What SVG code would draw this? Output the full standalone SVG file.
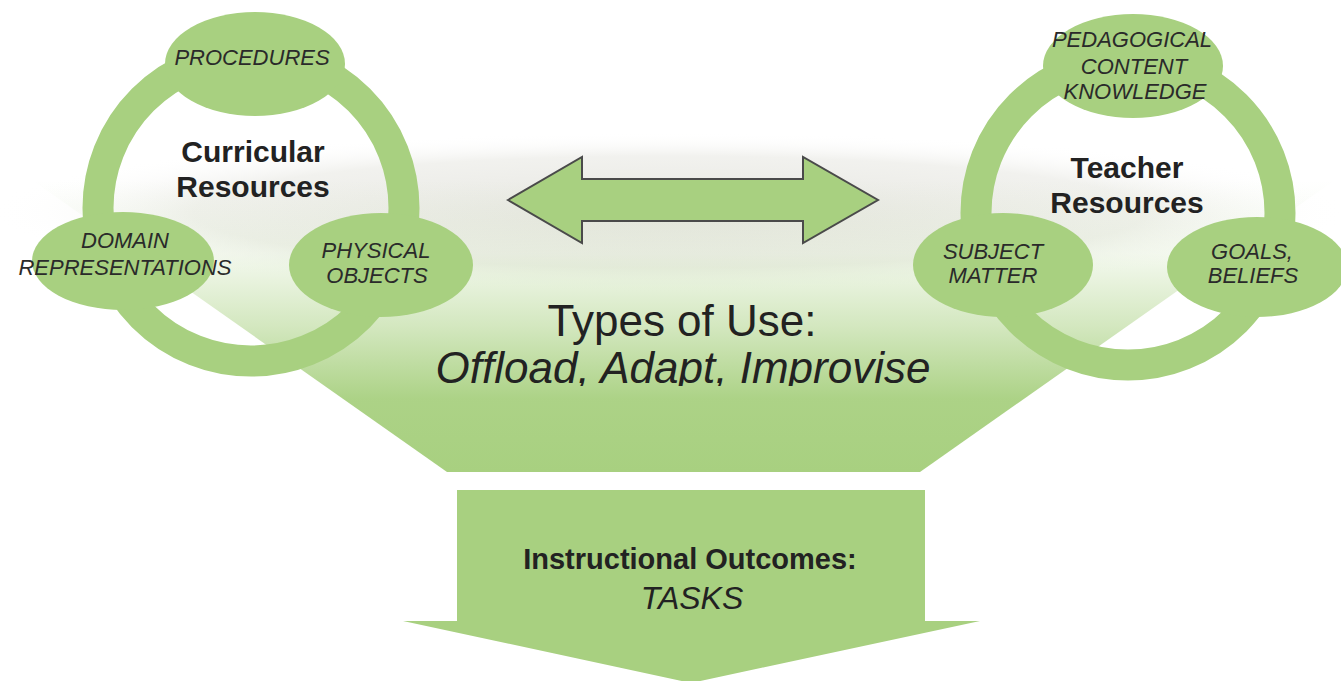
<svg xmlns="http://www.w3.org/2000/svg" width="1341" height="681" viewBox="0 0 1341 681">
  <defs>
    <style>
      .g { fill: #a8d080; }
      .ring { fill: none; stroke: #a8d080; stroke-width: 31; }
      .lbl { font-family: "Liberation Sans", Arial, sans-serif; font-style: italic; font-size: 22px; fill: #2a2a2a; text-anchor: middle; }
      .ttl { font-family: "Liberation Sans", Arial, sans-serif; font-weight: bold; font-size: 30px; fill: #222; text-anchor: middle; }
      .big { font-family: "Liberation Sans", Arial, sans-serif; font-size: 44px; fill: #222; text-anchor: middle; }
      .out { font-family: "Liberation Sans", Arial, sans-serif; font-weight: bold; font-size: 29px; fill: #222; text-anchor: middle; }
      .task { font-family: "Liberation Sans", Arial, sans-serif; font-style: italic; font-size: 32px; fill: #222; text-anchor: middle; }
    </style>
    <linearGradient id="hexFill" x1="0" y1="180" x2="0" y2="472" gradientUnits="userSpaceOnUse">
      <stop offset="0" stop-color="#a8d080" stop-opacity="0"/>
      <stop offset="0.25" stop-color="#a8d080" stop-opacity="0.12"/>
      <stop offset="0.5" stop-color="#a8d080" stop-opacity="0.5"/>
      <stop offset="0.75" stop-color="#a8d080" stop-opacity="0.95"/>
      <stop offset="1" stop-color="#a8d080" stop-opacity="1"/>
    </linearGradient>
    <radialGradient id="fog" cx="670" cy="212" r="1" gradientUnits="userSpaceOnUse" gradientTransform="translate(670 212) scale(680 80) translate(-670 -212)">
      <stop offset="0" stop-color="#e6e6e0" stop-opacity="1"/>
      <stop offset="0.7" stop-color="#eeeeea" stop-opacity="0.8"/>
      <stop offset="1" stop-color="#ffffff" stop-opacity="0"/>
    </radialGradient>
    <clipPath id="clipLine">
      <rect x="0" y="0" width="1341" height="386"/>
    </clipPath>
  </defs>

  <rect width="1341" height="681" fill="#ffffff"/>
  <ellipse cx="670" cy="212" rx="680" ry="80" fill="url(#fog)"/>

  <g id="types-of-use">
    <polygon points="32,180 1335,180 920,472 447,472" fill="url(#hexFill)"/>
    <text class="big" x="682" y="336">Types of Use:</text>
    <text class="big" x="683" y="383" font-style="italic" clip-path="url(#clipLine)">Offload, Adapt, Improvise</text>
  </g>

  <g id="curricular-resources">
    <circle class="ring" cx="251" cy="208" r="153"/>
    <text class="ttl" x="253" y="162">Curricular</text>
    <text class="ttl" x="253" y="197">Resources</text>
  </g>
  <g id="procedures">
    <ellipse class="g" cx="255" cy="64" rx="90" ry="52"/>
    <text class="lbl" x="252" y="65">PROCEDURES</text>
  </g>
  <g id="domain-representations">
    <ellipse class="g" cx="123" cy="261" rx="91" ry="49"/>
    <text class="lbl" x="125" y="248">DOMAIN</text>
    <text class="lbl" x="125" y="275">REPRESENTATIONS</text>
  </g>
  <g id="physical-objects">
    <ellipse class="g" cx="381" cy="265" rx="92" ry="52"/>
    <text class="lbl" x="376" y="258">PHYSICAL</text>
    <text class="lbl" x="377" y="283">OBJECTS</text>
  </g>

  <g id="teacher-resources">
    <circle class="ring" cx="1128" cy="213" r="152"/>
    <text class="ttl" x="1127" y="178">Teacher</text>
    <text class="ttl" x="1127" y="213">Resources</text>
  </g>
  <g id="pck">
    <ellipse class="g" cx="1133" cy="66" rx="90" ry="52"/>
    <text class="lbl" x="1132" y="47">PEDAGOGICAL</text>
    <text class="lbl" x="1134" y="74">CONTENT</text>
    <text class="lbl" x="1135" y="99">KNOWLEDGE</text>
  </g>
  <g id="subject-matter">
    <ellipse class="g" cx="1003" cy="265" rx="90" ry="52"/>
    <text class="lbl" x="993" y="259">SUBJECT</text>
    <text class="lbl" x="993" y="283">MATTER</text>
  </g>
  <g id="goals-beliefs">
    <ellipse class="g" cx="1257" cy="267" rx="90" ry="50"/>
    <text class="lbl" x="1252" y="259">GOALS,</text>
    <text class="lbl" x="1253" y="283">BELIEFS</text>
  </g>

  <g id="connectors">
    <polygon points="508,200 582,157 582,179 803,179 803,157 878,200 803,243 803,221 582,221 582,243" fill="#a8d080" stroke="#4a4a4a" stroke-width="2" stroke-linejoin="miter"/>
  </g>

  <g id="instructional-outcomes">
    <polygon class="g" points="457,490 925,490 925,621 980,621 691,683 403,621 457,621"/>
    <text class="out" x="690" y="569">Instructional Outcomes:</text>
    <text class="task" x="692" y="609">TASKS</text>
  </g>
</svg>
